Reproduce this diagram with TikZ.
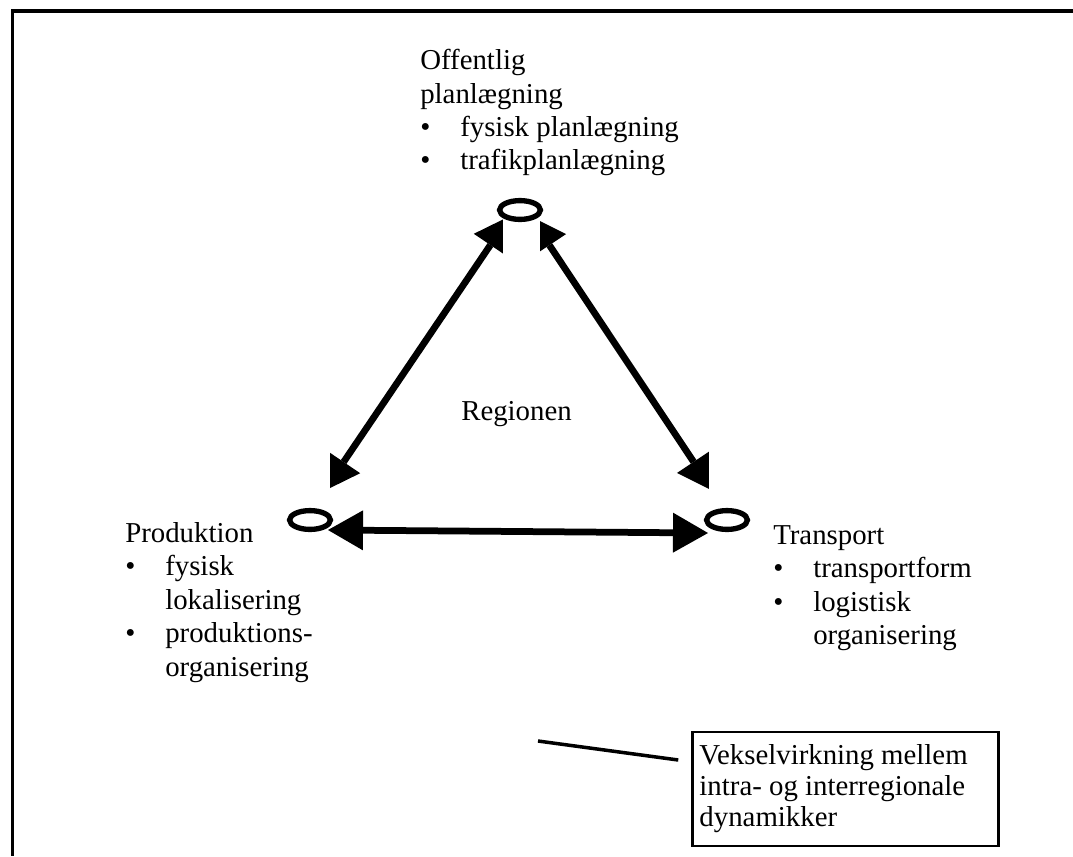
\documentclass[tikz,border=0pt]{standalone}
\usepackage{fontspec}
\setmainfont{Liberation Serif}
\usetikzlibrary{arrows.meta,shapes.geometric,backgrounds}
\newcommand{\bul}{\makebox[1cm][l]{\textbullet}}
\newcommand{\ind}{\hspace*{1cm}}

\begin{document}
\begin{tikzpicture}[
  x=0.025cm, y=-0.025cm,
  every node/.style={font=\fontsize{20.5pt}{23.8pt}\selectfont},
  ring/.style={draw, ellipse, line width=3.8pt, minimum width=1.02cm, minimum height=0.47cm, inner sep=0pt},
  block/.style={align=left, inner sep=0pt, anchor=north west},
  twoway/.style={{Triangle[length=0.875cm, width=1cm, line width=0pt]}-{Triangle[length=0.875cm, width=1cm, line width=0pt]}, line width=4.8pt},
  cut/.style={fill=white},
  note/.style={draw, line width=2pt, text width=7.3cm, align=flush left, minimum height=2.85cm, inner sep=0.17cm, font=\fontsize{20.5pt}{22pt}\selectfont}
]
\useasboundingbox (0,0) rectangle (1073,856);
\draw[line width=2.8pt] (1073,11) -- (12.5,11) -- (12.5,856);

\node[ring] (plan) at (520,210) {};
\node[ring] (prod) at (310,520) {};
\node[ring] (trans) at (727,520) {};

\node[block] (plantxt) at (420,49) {Offentlig\\planlægning\\\bul fysisk planlægning\\\bul trafikplanlægning};
\node[block] (prodtxt) at (125,522) {Produktion\\\bul fysisk\\\ind lokalisering\\\bul produktions-\\\ind organisering};
\node[block] (transtxt) at (773,525) {Transport\\\bul transportform\\\bul logistisk\\\ind organisering};
\node[anchor=base west, inner sep=0pt] (region) at (461,420) {Regionen};

\node[note] (note) at (845.5,789) {Vekselvirkning mellem\\intra- og interregionale\\dynamikker};
\coordinate (notetail) at (538,741);
\draw[line width=2.5pt] (notetail) -- ([shift={(-13,-29)}]note.west);

\coordinate (planL) at ([shift={(-10,6)}]plan.center);
\coordinate (planR) at ([shift={(10,6)}]plan.center);
\coordinate (prodU) at ([shift={(14,-29)}]prod.center);
\coordinate (prodR) at ([shift={(18,10)}]prod.center);
\coordinate (transU) at ([shift={(-14,-29)}]trans.center);
\coordinate (transL) at ([shift={(-19,13)}]trans.center);

\begin{scope}[on background layer]
\draw[twoway] (planL) -- (prodU);
\draw[twoway] (planR) -- (transU);
\draw[twoway] (prodR) -- (transL);
\fill[cut] ([shift={(-17,2)}]plan.center) rectangle ([shift={(20,52)}]plan.center);
\fill[cut] ([shift={(-40,-80)}]prod.center) rectangle ([shift={(20,-20)}]prod.center);
\fill[cut] ([shift={(-18,-80)}]trans.center) rectangle ([shift={(40,-20)}]trans.center);
\end{scope}
\end{tikzpicture}
\end{document}
